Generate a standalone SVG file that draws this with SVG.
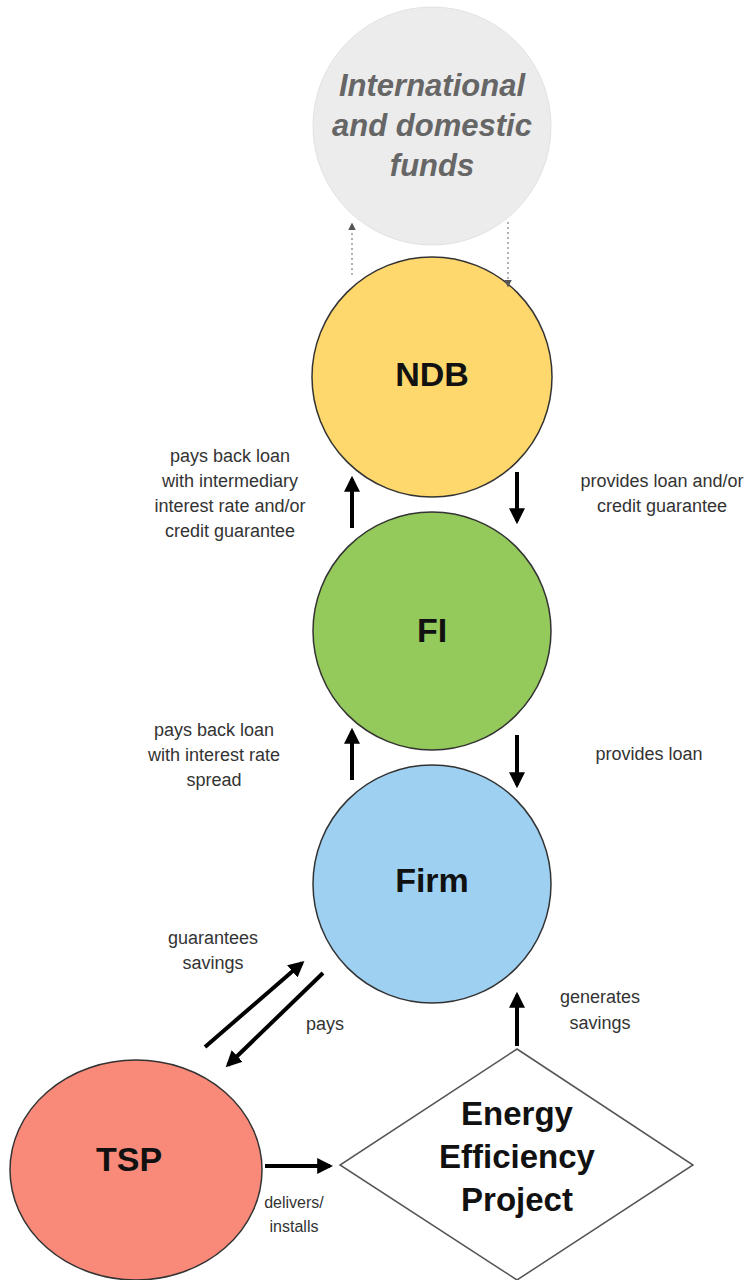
<svg xmlns="http://www.w3.org/2000/svg" width="747" height="1280" viewBox="0 0 747 1280">
<style>
.node{stroke:#333;stroke-width:1.5}
.lbl{font-family:"Liberation Sans",Arial,sans-serif;font-size:18px;fill:#333;text-anchor:middle}
.big{font-family:"Liberation Sans",Arial,sans-serif;font-weight:bold;font-size:34px;fill:#111;text-anchor:middle}
.fund{font-family:"Liberation Sans",Arial,sans-serif;font-weight:bold;font-style:italic;font-size:31px;fill:#666;text-anchor:middle}
.arr{stroke:#000;stroke-width:4;fill:none;marker-end:url(#ah)}
.dot{stroke:#999;stroke-width:1.5;stroke-dasharray:2 3;fill:none;marker-end:url(#ahg)}
</style>
<defs>
<marker id="ah" viewBox="0 0 10 10" refX="8" refY="5" markerWidth="4" markerHeight="4" orient="auto" markerUnits="strokeWidth"><path d="M0,0 L10,5 L0,10 z" fill="#000"/></marker>
<marker id="ahg" viewBox="0 0 10 10" refX="8" refY="5" markerWidth="5" markerHeight="5" orient="auto" markerUnits="strokeWidth"><path d="M0,0 L10,5 L0,10 z" fill="#555"/></marker>
</defs>
<rect width="747" height="1280" fill="#fff"/>
<g id="funds">
<circle cx="432" cy="126" r="119" fill="#ececec" stroke="#e2e2e2" stroke-width="1"/>
<text class="fund" x="432" y="96">International</text>
<text class="fund" x="432" y="136">and domestic</text>
<text class="fund" x="432" y="176">funds</text>
</g>
<g id="ndb">
<circle class="node" cx="432" cy="377" r="120" fill="#fed86c"/>
<text class="big" x="432" y="386">NDB</text>
</g>
<g id="fi">
<circle class="node" cx="432" cy="631" r="119" fill="#94c95c"/>
<text class="big" x="432" y="642">FI</text>
</g>
<g id="firm">
<circle class="node" cx="432" cy="884" r="119" fill="#9dd0f1"/>
<text class="big" x="432" y="892">Firm</text>
</g>
<g id="tsp">
<ellipse class="node" cx="136" cy="1170" rx="126" ry="110" fill="#f98a7a"/>
<text class="big" x="129" y="1171">TSP</text>
</g>
<g id="project">
<polygon points="517,1049 693,1165 517,1280 340,1165" fill="#fff" stroke="#555" stroke-width="1.5"/>
<text class="big" x="517" y="1125" style="font-size:33px">Energy</text>
<text class="big" x="517" y="1168" style="font-size:33px">Efficiency</text>
<text class="big" x="517" y="1211" style="font-size:33px">Project</text>
</g>
<g id="connectors">
<line class="dot" x1="352" y1="275" x2="352" y2="224"/>
<line class="dot" x1="508" y1="222" x2="508" y2="286"/>
<line class="arr" x1="352" y1="528" x2="352" y2="479"/>
<line class="arr" x1="517" y1="472" x2="517" y2="521"/>
<line class="arr" x1="352" y1="780" x2="352" y2="731"/>
<line class="arr" x1="517" y1="735" x2="517" y2="785"/>
<line class="arr" x1="205" y1="1047" x2="302" y2="963"/>
<line class="arr" x1="323" y1="973" x2="228" y2="1065"/>
<line class="arr" x1="517" y1="1046" x2="517" y2="995"/>
<line class="arr" x1="265" y1="1166" x2="330" y2="1166"/>
</g>
<g id="labels">
<text class="lbl" x="230" y="462">pays back loan</text>
<text class="lbl" x="230" y="487">with intermediary</text>
<text class="lbl" x="230" y="512">interest rate and/or</text>
<text class="lbl" x="230" y="537">credit guarantee</text>
<text class="lbl" x="662" y="487">provides loan and/or</text>
<text class="lbl" x="662" y="512">credit guarantee</text>
<text class="lbl" x="214" y="736">pays back loan</text>
<text class="lbl" x="214" y="761">with interest rate</text>
<text class="lbl" x="214" y="786">spread</text>
<text class="lbl" x="649" y="760">provides loan</text>
<text class="lbl" x="213" y="944">guarantees</text>
<text class="lbl" x="213" y="969">savings</text>
<text class="lbl" x="325" y="1030">pays</text>
<text class="lbl" x="600" y="1003">generates</text>
<text class="lbl" x="600" y="1029">savings</text>
<text class="lbl" x="294" y="1208" style="font-size:16px">delivers/</text>
<text class="lbl" x="294" y="1232" style="font-size:16px">installs</text>
</g>
</svg>
